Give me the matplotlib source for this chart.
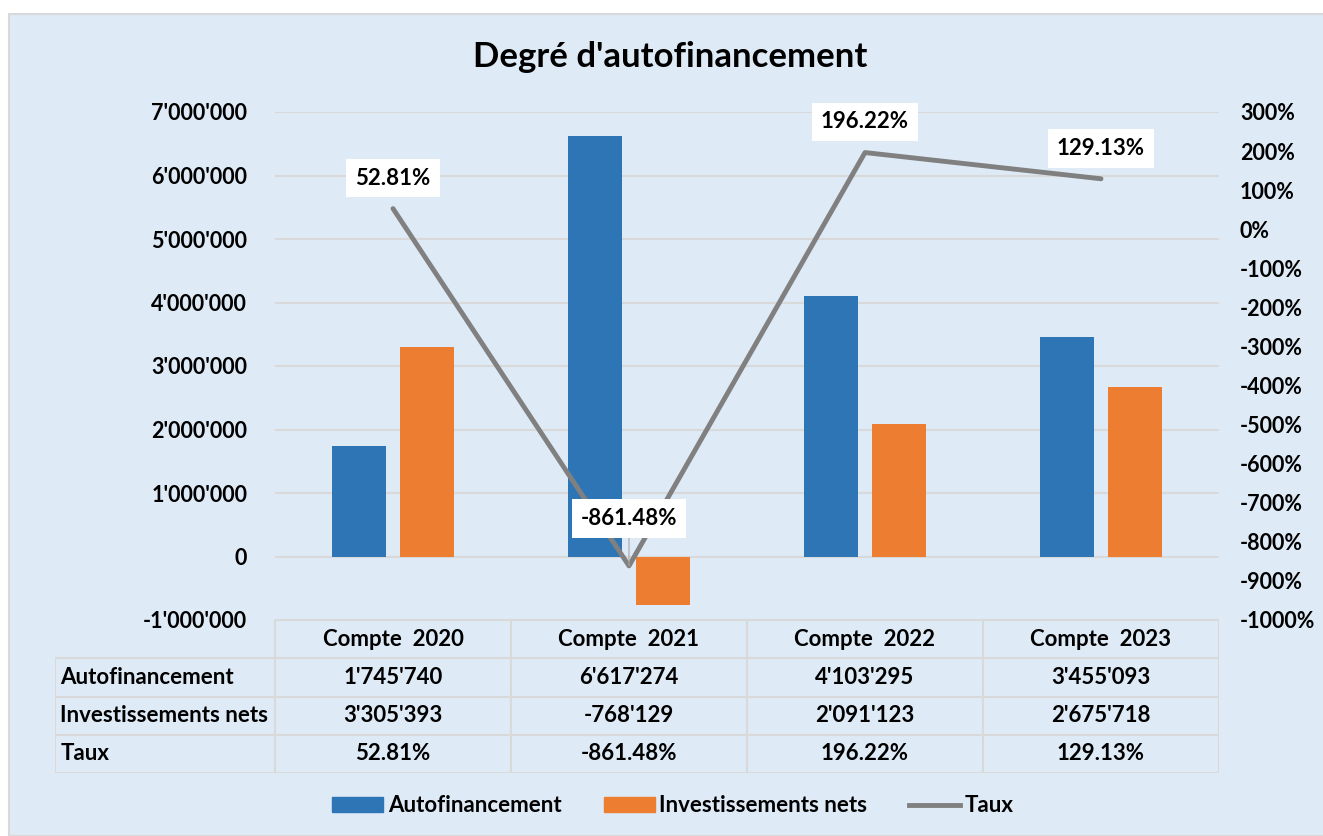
import numpy as np
import matplotlib
matplotlib.use("Agg")
import matplotlib.pyplot as plt
from matplotlib.patches import Rectangle, Patch
from matplotlib.lines import Line2D

plt.rcParams["font.family"] = ["Lato", "DejaVu Sans"]
plt.rcParams["font.weight"] = "bold"

# --------------------------------------------
# Data
# --------------------------------------------

categories = ["Compte  2020", "Compte  2021", "Compte  2022", "Compte  2023"]
autofinancement = [1745740, 6617274, 4103295, 3455093]
investissements = [3305393, -768129, 2091123, 2675718]
taux = [52.81, -861.48, 196.22, 129.13]
series_names = ["Autofinancement", "Investissements nets", "Taux"]

left_ticks = np.arange(-1000000, 7000001, 1000000)
right_ticks = np.arange(-1000, 301, 100)

BLUE = "#2E75B6"
ORANGE = "#ED7D31"
GREY = "#808080"
GRID = "#D9D9D9"
BG = "#DEEAF6"

W, H = 1323, 836
FS = 16


def fmt_num(v):
    return f"{v:,.0f}".replace(",", "'")


# --------------------------------------------
# Figure
# --------------------------------------------

fig = plt.figure(figsize=(W / 100, H / 100), dpi=100)
fig.patch.set_facecolor("white")
fig.add_artist(Rectangle((9 / W, 0), 1.0, 1 - 14 / H,
                         transform=fig.transFigure,
                         facecolor=BG, edgecolor=GRID, linewidth=1.5,
                         zorder=0))

fig.text(670 / W, 1 - 57 / H, "Degré d'autofinancement",
         ha="center", va="center", fontsize=25, fontweight="bold")

ax_left, ax_right = 275 / W, 1219 / W
ax_bottom, ax_top = 1 - 620 / H, 1 - 112 / H
ax = fig.add_axes([ax_left, ax_bottom, ax_right - ax_left, ax_top - ax_bottom])
ax.set_facecolor("none")

x = np.arange(len(categories))
bw = 0.225
ax.bar(x - 0.144, autofinancement, bw, color=BLUE, zorder=3)
ax.bar(x + 0.144, investissements, bw, color=ORANGE, zorder=3)

ax.set_xlim(-0.5, 3.5)
ax.set_ylim(-1000000, 7000000)
ax.set_yticks(left_ticks)
ax.set_yticklabels([fmt_num(v) for v in left_ticks], fontsize=15.5)
ax.tick_params(axis="y", length=0, pad=20)
ax.set_xticks([])
ax.grid(axis="y", color=GRID, linewidth=1.5, zorder=0)
for s in ax.spines.values():
    s.set_visible(False)

ax2 = ax.twinx()
ax2.set_ylim(-1000, 300)
ax2.set_yticks(right_ticks)
ax2.set_yticklabels([f"{v}%" for v in right_ticks], fontsize=15.5)
ax2.tick_params(axis="y", length=0, pad=15)
for s in ax2.spines.values():
    s.set_visible(False)

ax2.plot(x, taux, color=GREY, linewidth=3.5, solid_capstyle="round",
         solid_joinstyle="round", zorder=4)

for i, t in enumerate(taux):
    off = 34 if t < 0 else 22
    ax2.annotate(f"{t:.2f}%", (x[i], t), xytext=(0, off),
                 textcoords="offset points", ha="center", va="center",
                 fontsize=FS, fontweight="bold",
                 bbox=dict(boxstyle="square,pad=0.4", fc="white", ec="none"),
                 arrowprops=(dict(arrowstyle="-", color="#A6A6A6", lw=0.8,
                                  shrinkA=0, shrinkB=0) if t < 0 else None),
                 zorder=5)

# --------------------------------------------
# Data table
# --------------------------------------------

label_w = 220 / 236
tab_left = 55 / W
tab_bottom = 1 - 773 / H
tax = fig.add_axes([tab_left, tab_bottom, ax_right - tab_left,
                    ax_bottom - tab_bottom])
tax.set_xlim(-0.5 - label_w, 3.5)
tax.set_ylim(4, 0)
tax.axis("off")

rows = [autofinancement, investissements,
        [f"{t:.2f}%" for t in taux]]

lkw = dict(color=GRID, linewidth=1.5)
# horizontal lines
tax.plot([-0.5, 3.5], [0, 0], **lkw)
for r in range(1, 5):
    tax.plot([-0.5 - label_w, 3.5], [r, r], **lkw)
# vertical lines
tax.plot([-0.5 - label_w] * 2, [1, 4], **lkw)
for c in range(5):
    tax.plot([c - 0.5] * 2, [0, 4], **lkw)

for c, cat in enumerate(categories):
    tax.text(c, 0.5, cat, ha="center", va="center", fontsize=FS)
for r, (name, vals) in enumerate(zip(series_names, rows), start=1):
    tax.text(-0.5 - label_w + 0.022, r + 0.5, name, ha="left",
             va="center", fontsize=FS)
    for c, v in enumerate(vals):
        txt = v if isinstance(v, str) else fmt_num(v)
        tax.text(c, r + 0.5, txt, ha="center", va="center", fontsize=FS)

# --------------------------------------------
# Legend
# --------------------------------------------

handles = [Patch(color=BLUE), Patch(color=ORANGE),
           Line2D([], [], color=GREY, linewidth=3.5)]
fig.legend(handles, series_names, loc="center",
           bbox_to_anchor=(673 / W, 1 - 806 / H), ncol=3, frameon=False,
           fontsize=FS, handlelength=2.3, handleheight=0.65,
           handletextpad=0.2, columnspacing=1.9)

plt.savefig("out.png", dpi=100)
